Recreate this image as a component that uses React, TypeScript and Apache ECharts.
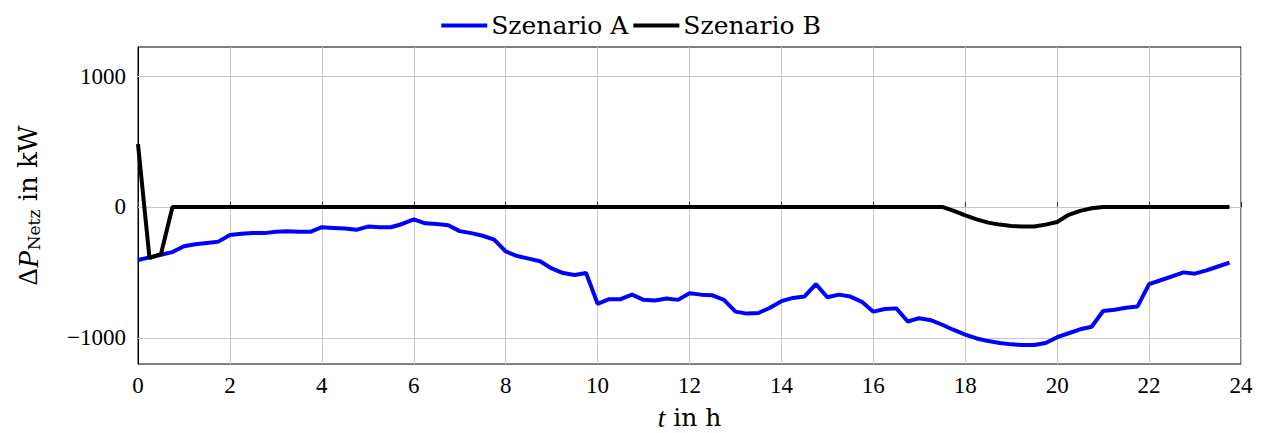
import React, { useEffect, useRef } from "react";
import * as echarts from "echarts";

const xTicks = [0, 2, 4, 6, 8, 10, 12, 14, 16, 18, 20, 22, 24];
const yTicks = [-1000, 0, 1000];

const szenarioA = [
  -405, -385, -365, -345, -300, -285, -275, -265,
  -215, -205, -200, -200, -190, -185, -190, -190,
  -155, -160, -165, -175, -150, -155, -155, -130,
  -95, -125, -130, -140, -185, -200, -220, -250,
  -340, -375, -395, -415, -470, -505, -520, -505,
  -740, -705, -705, -670, -710, -715, -700, -710,
  -660, -670, -675, -710, -800, -815, -810, -770,
  -720, -695, -685, -590, -690, -670, -685, -725,
  -800, -780, -775, -875, -850, -865, -900, -940,
  -975, -1005, -1025, -1040, -1050, -1055, -1055, -1040,
  -995, -965, -935, -915, -795, -785, -770, -760,
  -590, -560, -530, -500, -510, -485, -455, -425,
];

const szenarioB = [
  480, -390, -360, 0, 0, 0, 0, 0,
  0, 0, 0, 0, 0, 0, 0, 0,
  0, 0, 0, 0, 0, 0, 0, 0,
  0, 0, 0, 0, 0, 0, 0, 0,
  0, 0, 0, 0, 0, 0, 0, 0,
  0, 0, 0, 0, 0, 0, 0, 0,
  0, 0, 0, 0, 0, 0, 0, 0,
  0, 0, 0, 0, 0, 0, 0, 0,
  0, 0, 0, 0, 0, 0, 0, -30,
  -65, -95, -120, -135, -145, -150, -150, -135,
  -115, -60, -30, -10, 0, 0, 0, 0,
  0, 0, 0, 0, 0, 0, 0, 0,
];

const hours = szenarioA.map((_, i) => i * 0.25);

const NUM_FONT = "'Liberation Serif', 'DejaVu Serif', serif";
const TXT_FONT = "'DejaVu Serif', 'Liberation Serif', serif";

export default function App() {
  const ref = useRef<HTMLDivElement>(null);
  useEffect(() => {
    if (!ref.current) return;
    const chart = echarts.init(ref.current, null, { renderer: "svg" });
    chart.setOption({
      animation: false,
      backgroundColor: "#ffffff",
      textStyle: { fontFamily: NUM_FONT, color: "#000" },
      legend: {
        top: 8,
        left: "center",
        itemWidth: 46,
        itemHeight: 4,
        itemGap: 5,
        icon: "rect",
        textStyle: { fontFamily: TXT_FONT, fontSize: 25, color: "#000", padding: [0, 0, 0, -1] },
        data: ["Szenario A", "Szenario B"],
      },
      grid: {
        left: 138,
        right: 21,
        top: 47,
        bottom: 69,
        outerBoundsMode: "none",
        show: true,
        borderColor: "#000",
        borderWidth: 1,
        backgroundColor: "transparent",
      },
      xAxis: {
        type: "value",
        min: 0,
        max: 24,
        interval: 2,
        name: "{i|t} in h",
        nameLocation: "middle",
        nameGap: 40,
        nameTextStyle: {
          fontFamily: TXT_FONT,
          fontSize: 25,
          color: "#000",
          rich: {
            i: { fontFamily: NUM_FONT, fontStyle: "italic", fontSize: 27, color: "#000" },
          },
        },
        axisLine: { show: true, lineStyle: { color: "#000", width: 1 } },
        axisTick: { show: true, inside: true, length: 5, lineStyle: { color: "#333" } },
        axisLabel: {
          fontFamily: NUM_FONT,
          fontSize: 23,
          color: "#000",
          margin: 10,
          formatter: (v: number) => (xTicks.includes(v) ? String(v) : ""),
        },
        splitLine: { show: true, lineStyle: { color: "#c8c8c8", width: 1 } },
      },
      yAxis: {
        type: "value",
        min: -1200,
        max: 1222,
        interval: 200,
        name: "{a|Δ}{p|P}{s|Netz}{b| in kW}",
        nameLocation: "middle",
        nameGap: 96,
        nameRotate: 90,
        nameTextStyle: {
          fontFamily: TXT_FONT,
          fontSize: 26,
          color: "#000",
          rich: {
            a: { fontFamily: NUM_FONT, fontSize: 27, color: "#000" },
            p: { fontFamily: NUM_FONT, fontStyle: "italic", fontSize: 29, color: "#000" },
            s: { fontFamily: TXT_FONT, fontSize: 17, color: "#000", verticalAlign: "bottom", padding: [12, 0, 0, 0] },
            b: { fontFamily: TXT_FONT, fontSize: 26, color: "#000" },
          },
        },
        axisLine: { show: true, lineStyle: { color: "#000", width: 1 } },
        axisTick: { show: false },
        axisLabel: {
          fontFamily: NUM_FONT,
          fontSize: 23,
          color: "#000",
          margin: 12,
          formatter: (v: number) =>
            yTicks.includes(v) ? (v < 0 ? "\u2212" + String(-v) : String(v)) : "",
        },
        splitLine: { show: false },
      },
      series: [
        {
          name: "Szenario A",
          type: "line",
          data: hours.map((h, i) => [h, szenarioA[i]]),
          showSymbol: false,
          symbol: "none",
          lineStyle: { color: "#0000ff", width: 4 },
          itemStyle: { color: "#0000ff" },
          z: 3,
          markLine: {
            silent: true,
            symbol: "none",
            label: { show: false },
            lineStyle: { color: "#c8c8c8", width: 1, type: "solid" },
            data: yTicks.map((v) => ({ yAxis: v })),
            z: 1,
          },
        },
        {
          name: "Szenario B",
          type: "line",
          data: hours.map((h, i) => [h, szenarioB[i]]),
          showSymbol: false,
          symbol: "none",
          lineStyle: { color: "#000000", width: 4 },
          itemStyle: { color: "#000000" },
          z: 4,
        },
      ],
    });
    return () => chart.dispose();
  }, []);
  return (
    <div
      ref={ref}
      style={{ position: "fixed", left: 0, top: 0, width: 1262, height: 433 }}
    />
  );
}
